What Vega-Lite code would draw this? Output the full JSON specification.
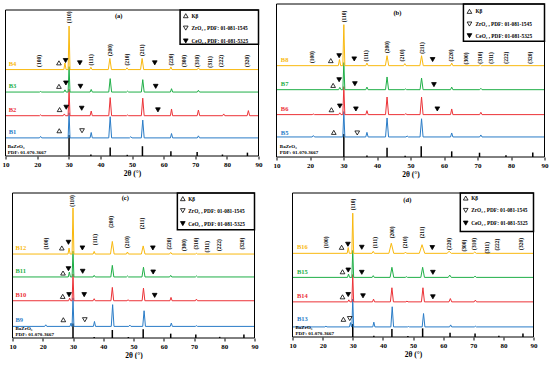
{
"$schema": "https://vega.github.io/schema/vega-lite/v6.json",
"padding": {"left": 1.5, "top": 3, "right": 0, "bottom": 0},
"background": "white",
"datasets": {
"frame": [{"x":10,"x2":90,"y":0,"y2":100}],
"pat": [
{"p":"a","r":1,"x":10,"y":12.4},{"p":"a","r":1,"x":20.75,"y":12.4},{"p":"a","r":1,"x":21.1,"y":13.4},{"p":"a","r":1,"x":21.45,"y":12.4},{"p":"a","r":1,"x":29.8,"y":12.4},{"p":"a","r":1,"x":30.1,"y":29.6},{"p":"a","r":1,"x":30.4,"y":12.4},{"p":"a","r":1,"x":36.75,"y":12.4},{"p":"a","r":1,"x":37.1,"y":16.1},{"p":"a","r":1,"x":37.45,"y":12.4},{"p":"a","r":1,"x":42.65,"y":12.4},{"p":"a","r":1,"x":43.1,"y":26.9},{"p":"a","r":1,"x":43.55,"y":12.4},{"p":"a","r":1,"x":49.2,"y":12.4},{"p":"a","r":1,"x":49.6,"y":13.2},{"p":"a","r":1,"x":50,"y":12.4},{"p":"a","r":1,"x":52.95,"y":12.4},{"p":"a","r":1,"x":53.4,"y":24.6},{"p":"a","r":1,"x":53.85,"y":12.4},{"p":"a","r":1,"x":62.15,"y":12.4},{"p":"a","r":1,"x":62.5,"y":15.4},{"p":"a","r":1,"x":62.85,"y":12.4},{"p":"a","r":1,"x":70.65,"y":12.4},{"p":"a","r":1,"x":71,"y":13.8},{"p":"a","r":1,"x":71.35,"y":12.4},{"p":"a","r":1,"x":90,"y":12.4},
{"p":"a","r":2,"x":10,"y":27.6},{"p":"a","r":2,"x":20.75,"y":27.6},{"p":"a","r":2,"x":21.1,"y":28.2},{"p":"a","r":2,"x":21.45,"y":27.6},{"p":"a","r":2,"x":28.25,"y":27.6},{"p":"a","r":2,"x":28.6,"y":28.8},{"p":"a","r":2,"x":28.95,"y":27.6},{"p":"a","r":2,"x":29.8,"y":27.6},{"p":"a","r":2,"x":30.1,"y":45.8},{"p":"a","r":2,"x":30.4,"y":27.6},{"p":"a","r":2,"x":36.75,"y":27.6},{"p":"a","r":2,"x":37.1,"y":30.8},{"p":"a","r":2,"x":37.45,"y":27.6},{"p":"a","r":2,"x":42.65,"y":27.6},{"p":"a","r":2,"x":43.1,"y":40},{"p":"a","r":2,"x":43.55,"y":27.6},{"p":"a","r":2,"x":48.25,"y":27.6},{"p":"a","r":2,"x":48.6,"y":28.1},{"p":"a","r":2,"x":48.95,"y":27.6},{"p":"a","r":2,"x":52.95,"y":27.6},{"p":"a","r":2,"x":53.4,"y":39.6},{"p":"a","r":2,"x":53.85,"y":27.6},{"p":"a","r":2,"x":62.15,"y":27.6},{"p":"a","r":2,"x":62.5,"y":32.2},{"p":"a","r":2,"x":62.85,"y":27.6},{"p":"a","r":2,"x":70.6,"y":27.6},{"p":"a","r":2,"x":71,"y":31.5},{"p":"a","r":2,"x":71.4,"y":27.6},{"p":"a","r":2,"x":78.65,"y":27.6},{"p":"a","r":2,"x":79,"y":28.8},{"p":"a","r":2,"x":79.35,"y":27.6},{"p":"a","r":2,"x":86.4,"y":27.6},{"p":"a","r":2,"x":86.8,"y":31.1},{"p":"a","r":2,"x":87.2,"y":27.6},{"p":"a","r":2,"x":90,"y":27.6},
{"p":"a","r":3,"x":10,"y":43.8},{"p":"a","r":3,"x":20.75,"y":43.8},{"p":"a","r":3,"x":21.1,"y":44.2},{"p":"a","r":3,"x":21.45,"y":43.8},{"p":"a","r":3,"x":28.45,"y":43.8},{"p":"a","r":3,"x":28.8,"y":45.3},{"p":"a","r":3,"x":29.15,"y":43.8},{"p":"a","r":3,"x":29.8,"y":43.8},{"p":"a","r":3,"x":30.1,"y":61.2},{"p":"a","r":3,"x":30.4,"y":43.8},{"p":"a","r":3,"x":36.75,"y":43.8},{"p":"a","r":3,"x":37.1,"y":45.6},{"p":"a","r":3,"x":37.45,"y":43.8},{"p":"a","r":3,"x":42.65,"y":43.8},{"p":"a","r":3,"x":43.1,"y":53},{"p":"a","r":3,"x":43.55,"y":43.8},{"p":"a","r":3,"x":48.25,"y":43.8},{"p":"a","r":3,"x":48.6,"y":44.4},{"p":"a","r":3,"x":48.95,"y":43.8},{"p":"a","r":3,"x":52.95,"y":43.8},{"p":"a","r":3,"x":53.4,"y":52.3},{"p":"a","r":3,"x":53.85,"y":43.8},{"p":"a","r":3,"x":62.15,"y":43.8},{"p":"a","r":3,"x":62.5,"y":46.1},{"p":"a","r":3,"x":62.85,"y":43.8},{"p":"a","r":3,"x":70.65,"y":43.8},{"p":"a","r":3,"x":71,"y":45},{"p":"a","r":3,"x":71.35,"y":43.8},{"p":"a","r":3,"x":90,"y":43.8},
{"p":"a","r":4,"x":10,"y":59.2},{"p":"a","r":4,"x":28.45,"y":59.2},{"p":"a","r":4,"x":28.8,"y":63.7},{"p":"a","r":4,"x":29.15,"y":59.2},{"p":"a","r":4,"x":29.8,"y":59.2},{"p":"a","r":4,"x":30.1,"y":89},{"p":"a","r":4,"x":30.4,"y":59.2},{"p":"a","r":4,"x":36.65,"y":59.2},{"p":"a","r":4,"x":37,"y":60.8},{"p":"a","r":4,"x":37.35,"y":59.2},{"p":"a","r":4,"x":42.5,"y":59.2},{"p":"a","r":4,"x":43,"y":66.8},{"p":"a","r":4,"x":43.5,"y":59.2},{"p":"a","r":4,"x":48.05,"y":59.2},{"p":"a","r":4,"x":48.4,"y":60.4},{"p":"a","r":4,"x":48.75,"y":59.2},{"p":"a","r":4,"x":52.7,"y":59.2},{"p":"a","r":4,"x":53.2,"y":66.8},{"p":"a","r":4,"x":53.7,"y":59.2},{"p":"a","r":4,"x":61.95,"y":59.2},{"p":"a","r":4,"x":62.3,"y":61},{"p":"a","r":4,"x":62.65,"y":59.2},{"p":"a","r":4,"x":70.65,"y":59.2},{"p":"a","r":4,"x":71,"y":60.4},{"p":"a","r":4,"x":71.35,"y":59.2},{"p":"a","r":4,"x":90,"y":59.2},
{"p":"b","r":1,"x":10,"y":13.1},{"p":"b","r":1,"x":20.65,"y":13.1},{"p":"b","r":1,"x":21,"y":14},{"p":"b","r":1,"x":21.35,"y":13.1},{"p":"b","r":1,"x":29.8,"y":13.1},{"p":"b","r":1,"x":30.1,"y":29.7},{"p":"b","r":1,"x":30.4,"y":13.1},{"p":"b","r":1,"x":36.65,"y":13.1},{"p":"b","r":1,"x":37,"y":16.1},{"p":"b","r":1,"x":37.35,"y":13.1},{"p":"b","r":1,"x":42.55,"y":13.1},{"p":"b","r":1,"x":43,"y":25.5},{"p":"b","r":1,"x":43.45,"y":13.1},{"p":"b","r":1,"x":48.65,"y":13.1},{"p":"b","r":1,"x":49,"y":13.7},{"p":"b","r":1,"x":49.35,"y":13.1},{"p":"b","r":1,"x":52.85,"y":13.1},{"p":"b","r":1,"x":53.3,"y":25},{"p":"b","r":1,"x":53.75,"y":13.1},{"p":"b","r":1,"x":61.95,"y":13.1},{"p":"b","r":1,"x":62.3,"y":15.7},{"p":"b","r":1,"x":62.65,"y":13.1},{"p":"b","r":1,"x":70.65,"y":13.1},{"p":"b","r":1,"x":71,"y":14.4},{"p":"b","r":1,"x":71.35,"y":13.1},{"p":"b","r":1,"x":90,"y":13.1},
{"p":"b","r":2,"x":10,"y":27.7},{"p":"b","r":2,"x":20.65,"y":27.7},{"p":"b","r":2,"x":21,"y":28.1},{"p":"b","r":2,"x":21.35,"y":27.7},{"p":"b","r":2,"x":28.55,"y":27.7},{"p":"b","r":2,"x":28.9,"y":28.9},{"p":"b","r":2,"x":29.25,"y":27.7},{"p":"b","r":2,"x":29.8,"y":27.7},{"p":"b","r":2,"x":30.1,"y":46},{"p":"b","r":2,"x":30.4,"y":27.7},{"p":"b","r":2,"x":36.65,"y":27.7},{"p":"b","r":2,"x":37,"y":30.3},{"p":"b","r":2,"x":37.35,"y":27.7},{"p":"b","r":2,"x":42.55,"y":27.7},{"p":"b","r":2,"x":43,"y":39.2},{"p":"b","r":2,"x":43.45,"y":27.7},{"p":"b","r":2,"x":48.25,"y":27.7},{"p":"b","r":2,"x":48.6,"y":28.3},{"p":"b","r":2,"x":48.95,"y":27.7},{"p":"b","r":2,"x":52.85,"y":27.7},{"p":"b","r":2,"x":53.3,"y":39.2},{"p":"b","r":2,"x":53.75,"y":27.7},{"p":"b","r":2,"x":61.95,"y":27.7},{"p":"b","r":2,"x":62.3,"y":31.4},{"p":"b","r":2,"x":62.65,"y":27.7},{"p":"b","r":2,"x":70.65,"y":27.7},{"p":"b","r":2,"x":71,"y":29.2},{"p":"b","r":2,"x":71.35,"y":27.7},{"p":"b","r":2,"x":90,"y":27.7},
{"p":"b","r":3,"x":10,"y":44},{"p":"b","r":3,"x":28.55,"y":44},{"p":"b","r":3,"x":28.9,"y":45.5},{"p":"b","r":3,"x":29.25,"y":44},{"p":"b","r":3,"x":29.8,"y":44},{"p":"b","r":3,"x":30.1,"y":61.7},{"p":"b","r":3,"x":30.4,"y":44},{"p":"b","r":3,"x":36.65,"y":44},{"p":"b","r":3,"x":37,"y":45.7},{"p":"b","r":3,"x":37.35,"y":44},{"p":"b","r":3,"x":42.55,"y":44},{"p":"b","r":3,"x":43,"y":52.3},{"p":"b","r":3,"x":43.45,"y":44},{"p":"b","r":3,"x":48.15,"y":44},{"p":"b","r":3,"x":48.5,"y":44.5},{"p":"b","r":3,"x":48.85,"y":44},{"p":"b","r":3,"x":52.85,"y":44},{"p":"b","r":3,"x":53.3,"y":51.6},{"p":"b","r":3,"x":53.75,"y":44},{"p":"b","r":3,"x":61.95,"y":44},{"p":"b","r":3,"x":62.3,"y":45.7},{"p":"b","r":3,"x":62.65,"y":44},{"p":"b","r":3,"x":70.65,"y":44},{"p":"b","r":3,"x":71,"y":44.9},{"p":"b","r":3,"x":71.35,"y":44},{"p":"b","r":3,"x":90,"y":44},
{"p":"b","r":4,"x":10,"y":59.7},{"p":"b","r":4,"x":28.45,"y":59.7},{"p":"b","r":4,"x":28.8,"y":63.7},{"p":"b","r":4,"x":29.15,"y":59.7},{"p":"b","r":4,"x":29.8,"y":59.7},{"p":"b","r":4,"x":30.1,"y":86.5},{"p":"b","r":4,"x":30.4,"y":59.7},{"p":"b","r":4,"x":36.65,"y":59.7},{"p":"b","r":4,"x":37,"y":61.4},{"p":"b","r":4,"x":37.35,"y":59.7},{"p":"b","r":4,"x":42.5,"y":59.7},{"p":"b","r":4,"x":43,"y":66.2},{"p":"b","r":4,"x":43.5,"y":59.7},{"p":"b","r":4,"x":47.95,"y":59.7},{"p":"b","r":4,"x":48.3,"y":61},{"p":"b","r":4,"x":48.65,"y":59.7},{"p":"b","r":4,"x":52.8,"y":59.7},{"p":"b","r":4,"x":53.3,"y":66.2},{"p":"b","r":4,"x":53.8,"y":59.7},{"p":"b","r":4,"x":61.95,"y":59.7},{"p":"b","r":4,"x":62.3,"y":61.4},{"p":"b","r":4,"x":62.65,"y":59.7},{"p":"b","r":4,"x":70.45,"y":59.7},{"p":"b","r":4,"x":70.8,"y":60.4},{"p":"b","r":4,"x":71.15,"y":59.7},{"p":"b","r":4,"x":90,"y":59.7},
{"p":"c","r":1,"x":10,"y":8},{"p":"c","r":1,"x":20.65,"y":8},{"p":"c","r":1,"x":21,"y":9.1},{"p":"c","r":1,"x":21.35,"y":8},{"p":"c","r":1,"x":29,"y":8},{"p":"c","r":1,"x":29.35,"y":10.3},{"p":"c","r":1,"x":29.6,"y":8},{"p":"c","r":1,"x":29.7,"y":8},{"p":"c","r":1,"x":30,"y":27.7},{"p":"c","r":1,"x":30.3,"y":8},{"p":"c","r":1,"x":36.75,"y":8},{"p":"c","r":1,"x":37.1,"y":11.4},{"p":"c","r":1,"x":37.45,"y":8},{"p":"c","r":1,"x":42.65,"y":8},{"p":"c","r":1,"x":43.1,"y":23},{"p":"c","r":1,"x":43.55,"y":8},{"p":"c","r":1,"x":48.45,"y":8},{"p":"c","r":1,"x":48.8,"y":8.9},{"p":"c","r":1,"x":49.15,"y":8},{"p":"c","r":1,"x":53.05,"y":8},{"p":"c","r":1,"x":53.5,"y":18.8},{"p":"c","r":1,"x":53.95,"y":8},{"p":"c","r":1,"x":62.15,"y":8},{"p":"c","r":1,"x":62.5,"y":10.3},{"p":"c","r":1,"x":62.85,"y":8},{"p":"c","r":1,"x":70.45,"y":8},{"p":"c","r":1,"x":70.8,"y":8.5},{"p":"c","r":1,"x":71.15,"y":8},{"p":"c","r":1,"x":90,"y":8},
{"p":"c","r":2,"x":10,"y":25.7},{"p":"c","r":2,"x":28.55,"y":25.7},{"p":"c","r":2,"x":28.9,"y":27.5},{"p":"c","r":2,"x":29.25,"y":25.7},{"p":"c","r":2,"x":29.7,"y":25.7},{"p":"c","r":2,"x":30,"y":44.1},{"p":"c","r":2,"x":30.3,"y":25.7},{"p":"c","r":2,"x":36.65,"y":25.7},{"p":"c","r":2,"x":37,"y":27.1},{"p":"c","r":2,"x":37.35,"y":25.7},{"p":"c","r":2,"x":42.55,"y":25.7},{"p":"c","r":2,"x":43,"y":34.9},{"p":"c","r":2,"x":43.45,"y":25.7},{"p":"c","r":2,"x":47.85,"y":25.7},{"p":"c","r":2,"x":48.2,"y":26.4},{"p":"c","r":2,"x":48.55,"y":25.7},{"p":"c","r":2,"x":52.85,"y":25.7},{"p":"c","r":2,"x":53.3,"y":34.4},{"p":"c","r":2,"x":53.75,"y":25.7},{"p":"c","r":2,"x":62.05,"y":25.7},{"p":"c","r":2,"x":62.4,"y":28},{"p":"c","r":2,"x":62.75,"y":25.7},{"p":"c","r":2,"x":70.45,"y":25.7},{"p":"c","r":2,"x":70.8,"y":26.8},{"p":"c","r":2,"x":71.15,"y":25.7},{"p":"c","r":2,"x":90,"y":25.7},
{"p":"c","r":3,"x":10,"y":42.1},{"p":"c","r":3,"x":28.45,"y":42.1},{"p":"c","r":3,"x":28.8,"y":45.5},{"p":"c","r":3,"x":29.15,"y":42.1},{"p":"c","r":3,"x":29.7,"y":42.1},{"p":"c","r":3,"x":30,"y":59.9},{"p":"c","r":3,"x":30.3,"y":42.1},{"p":"c","r":3,"x":36.65,"y":42.1},{"p":"c","r":3,"x":37,"y":43.2},{"p":"c","r":3,"x":37.35,"y":42.1},{"p":"c","r":3,"x":42.5,"y":42.1},{"p":"c","r":3,"x":43,"y":50.1},{"p":"c","r":3,"x":43.5,"y":42.1},{"p":"c","r":3,"x":47.65,"y":42.1},{"p":"c","r":3,"x":48,"y":42.8},{"p":"c","r":3,"x":48.35,"y":42.1},{"p":"c","r":3,"x":52.8,"y":42.1},{"p":"c","r":3,"x":53.3,"y":48.8},{"p":"c","r":3,"x":53.8,"y":42.1},{"p":"c","r":3,"x":61.95,"y":42.1},{"p":"c","r":3,"x":62.3,"y":43.2},{"p":"c","r":3,"x":62.65,"y":42.1},{"p":"c","r":3,"x":70.45,"y":42.1},{"p":"c","r":3,"x":70.8,"y":42.8},{"p":"c","r":3,"x":71.15,"y":42.1},{"p":"c","r":3,"x":90,"y":42.1},
{"p":"c","r":4,"x":10,"y":57.9},{"p":"c","r":4,"x":28.35,"y":57.9},{"p":"c","r":4,"x":28.7,"y":62},{"p":"c","r":4,"x":29.05,"y":57.9},{"p":"c","r":4,"x":29.7,"y":57.9},{"p":"c","r":4,"x":30,"y":89.7},{"p":"c","r":4,"x":30.3,"y":57.9},{"p":"c","r":4,"x":36.65,"y":57.9},{"p":"c","r":4,"x":37,"y":59.7},{"p":"c","r":4,"x":37.35,"y":57.9},{"p":"c","r":4,"x":42.4,"y":57.9},{"p":"c","r":4,"x":43,"y":66.6},{"p":"c","r":4,"x":43.6,"y":57.9},{"p":"c","r":4,"x":47.65,"y":57.9},{"p":"c","r":4,"x":48,"y":59.3},{"p":"c","r":4,"x":48.35,"y":57.9},{"p":"c","r":4,"x":52.6,"y":57.9},{"p":"c","r":4,"x":53.2,"y":63.5},{"p":"c","r":4,"x":53.8,"y":57.9},{"p":"c","r":4,"x":61.9,"y":57.9},{"p":"c","r":4,"x":62.3,"y":59},{"p":"c","r":4,"x":62.7,"y":57.9},{"p":"c","r":4,"x":70.45,"y":57.9},{"p":"c","r":4,"x":70.8,"y":58.4},{"p":"c","r":4,"x":71.15,"y":57.9},{"p":"c","r":4,"x":90,"y":57.9},
{"p":"d","r":1,"x":10,"y":7},{"p":"d","r":1,"x":20.75,"y":7},{"p":"d","r":1,"x":21.1,"y":7.5},{"p":"d","r":1,"x":21.45,"y":7},{"p":"d","r":1,"x":28.9,"y":7},{"p":"d","r":1,"x":29.25,"y":10},{"p":"d","r":1,"x":29.6,"y":7},{"p":"d","r":1,"x":29.7,"y":7},{"p":"d","r":1,"x":30,"y":26.4},{"p":"d","r":1,"x":30.3,"y":7},{"p":"d","r":1,"x":36.65,"y":7},{"p":"d","r":1,"x":37,"y":10.3},{"p":"d","r":1,"x":37.35,"y":7},{"p":"d","r":1,"x":42.65,"y":7},{"p":"d","r":1,"x":43.1,"y":21},{"p":"d","r":1,"x":43.55,"y":7},{"p":"d","r":1,"x":48.15,"y":7},{"p":"d","r":1,"x":48.5,"y":7.3},{"p":"d","r":1,"x":48.85,"y":7},{"p":"d","r":1,"x":53.05,"y":7},{"p":"d","r":1,"x":53.5,"y":16.3},{"p":"d","r":1,"x":53.95,"y":7},{"p":"d","r":1,"x":62.15,"y":7},{"p":"d","r":1,"x":62.5,"y":8.4},{"p":"d","r":1,"x":62.85,"y":7},{"p":"d","r":1,"x":70.35,"y":7},{"p":"d","r":1,"x":70.7,"y":7.5},{"p":"d","r":1,"x":71.05,"y":7},{"p":"d","r":1,"x":90,"y":7},
{"p":"d","r":2,"x":10,"y":24.4},{"p":"d","r":2,"x":28.35,"y":24.4},{"p":"d","r":2,"x":28.7,"y":25.8},{"p":"d","r":2,"x":29.05,"y":24.4},{"p":"d","r":2,"x":29.7,"y":24.4},{"p":"d","r":2,"x":30,"y":43.4},{"p":"d","r":2,"x":30.3,"y":24.4},{"p":"d","r":2,"x":36.55,"y":24.4},{"p":"d","r":2,"x":36.9,"y":26.3},{"p":"d","r":2,"x":37.25,"y":24.4},{"p":"d","r":2,"x":42.5,"y":24.4},{"p":"d","r":2,"x":43,"y":34.2},{"p":"d","r":2,"x":43.5,"y":24.4},{"p":"d","r":2,"x":47.65,"y":24.4},{"p":"d","r":2,"x":48,"y":24.9},{"p":"d","r":2,"x":48.35,"y":24.4},{"p":"d","r":2,"x":52.8,"y":24.4},{"p":"d","r":2,"x":53.3,"y":34.2},{"p":"d","r":2,"x":53.8,"y":24.4},{"p":"d","r":2,"x":61.95,"y":24.4},{"p":"d","r":2,"x":62.4,"y":26.7},{"p":"d","r":2,"x":62.85,"y":24.4},{"p":"d","r":2,"x":70.3,"y":24.4},{"p":"d","r":2,"x":70.7,"y":25.6},{"p":"d","r":2,"x":71.1,"y":24.4},{"p":"d","r":2,"x":90,"y":24.4},
{"p":"d","r":3,"x":10,"y":41.4},{"p":"d","r":3,"x":28.25,"y":41.4},{"p":"d","r":3,"x":28.6,"y":43.7},{"p":"d","r":3,"x":28.95,"y":41.4},{"p":"d","r":3,"x":29.7,"y":41.4},{"p":"d","r":3,"x":30,"y":60.1},{"p":"d","r":3,"x":30.3,"y":41.4},{"p":"d","r":3,"x":36.45,"y":41.4},{"p":"d","r":3,"x":36.8,"y":42.6},{"p":"d","r":3,"x":37.15,"y":41.4},{"p":"d","r":3,"x":42.4,"y":41.4},{"p":"d","r":3,"x":43,"y":48.4},{"p":"d","r":3,"x":43.6,"y":41.4},{"p":"d","r":3,"x":47.45,"y":41.4},{"p":"d","r":3,"x":47.8,"y":41.9},{"p":"d","r":3,"x":48.15,"y":41.4},{"p":"d","r":3,"x":52.6,"y":41.4},{"p":"d","r":3,"x":53.2,"y":48.4},{"p":"d","r":3,"x":53.8,"y":41.4},{"p":"d","r":3,"x":61.7,"y":41.4},{"p":"d","r":3,"x":62.2,"y":43},{"p":"d","r":3,"x":62.7,"y":41.4},{"p":"d","r":3,"x":70.2,"y":41.4},{"p":"d","r":3,"x":70.6,"y":42.3},{"p":"d","r":3,"x":71,"y":41.4},{"p":"d","r":3,"x":90,"y":41.4},
{"p":"d","r":4,"x":10,"y":58.1},{"p":"d","r":4,"x":28.15,"y":58.1},{"p":"d","r":4,"x":28.5,"y":62.1},{"p":"d","r":4,"x":28.85,"y":58.1},{"p":"d","r":4,"x":29.7,"y":58.1},{"p":"d","r":4,"x":30,"y":86},{"p":"d","r":4,"x":30.3,"y":58.1},{"p":"d","r":4,"x":36.4,"y":58.1},{"p":"d","r":4,"x":36.8,"y":59.5},{"p":"d","r":4,"x":37.2,"y":58.1},{"p":"d","r":4,"x":42,"y":58.1},{"p":"d","r":4,"x":42.8,"y":65.1},{"p":"d","r":4,"x":43.6,"y":58.1},{"p":"d","r":4,"x":47.15,"y":58.1},{"p":"d","r":4,"x":47.5,"y":59},{"p":"d","r":4,"x":47.85,"y":58.1},{"p":"d","r":4,"x":52.1,"y":58.1},{"p":"d","r":4,"x":53,"y":64.1},{"p":"d","r":4,"x":53.9,"y":58.1},{"p":"d","r":4,"x":61.3,"y":58.1},{"p":"d","r":4,"x":62,"y":59.5},{"p":"d","r":4,"x":62.7,"y":58.1},{"p":"d","r":4,"x":70,"y":58.1},{"p":"d","r":4,"x":70.5,"y":59},{"p":"d","r":4,"x":71,"y":58.1},{"p":"d","r":4,"x":90,"y":58.1}
],
"ref": [
{"p":"a","x":30.1,"y":14.4},{"p":"a","x":37,"y":1},{"p":"a","x":43.1,"y":5.8},{"p":"a","x":48.5,"y":0.8},{"p":"a","x":53.3,"y":6.7},{"p":"a","x":62.3,"y":3.2},{"p":"a","x":70.6,"y":2.8},{"p":"a","x":78.6,"y":1},{"p":"a","x":86.5,"y":2.3},
{"p":"b","x":30.1,"y":15},{"p":"b","x":37,"y":0.9},{"p":"b","x":43,"y":6},{"p":"b","x":48.4,"y":0.8},{"p":"b","x":53.2,"y":7},{"p":"b","x":62.3,"y":3.7},{"p":"b","x":70.6,"y":2.8},{"p":"b","x":78.5,"y":1.1},{"p":"b","x":86.5,"y":3},
{"p":"c","x":30,"y":10},{"p":"c","x":37,"y":0.7},{"p":"c","x":43,"y":5.5},{"p":"c","x":48.3,"y":0.7},{"p":"c","x":53.2,"y":6},{"p":"c","x":62.3,"y":3},{"p":"c","x":70.6,"y":2.5},{"p":"c","x":78.5,"y":0.8},{"p":"c","x":86.5,"y":2.5},
{"p":"d","x":30,"y":9},{"p":"d","x":37,"y":0.8},{"p":"d","x":43,"y":5.5},{"p":"d","x":48.3,"y":0.7},{"p":"d","x":53.2,"y":6},{"p":"d","x":62.3,"y":3},{"p":"d","x":70.6,"y":2.5},{"p":"d","x":78.5,"y":0.8},{"p":"d","x":86.5,"y":2.5}
],
"hkl": [
{"p":"a","x":20.6,"y":61,"t":"(100)"},{"p":"a","x":30.0,"y":91,"t":"(110)"},{"p":"a","x":36.9,"y":62,"t":"(111)"},{"p":"a","x":43.0,"y":68.5,"t":"(200)"},{"p":"a","x":48.5,"y":62,"t":"(210)"},{"p":"a","x":53.2,"y":68.5,"t":"(211)"},{"p":"a","x":62.2,"y":62,"t":"(220)"},{"p":"a","x":66.3,"y":61,"t":"(300)"},{"p":"a","x":70.5,"y":61,"t":"(310)"},{"p":"a","x":74.6,"y":60.5,"t":"(311)"},{"p":"a","x":78.1,"y":61,"t":"(222)"},{"p":"a","x":86.3,"y":61,"t":"(320)"},
{"p":"b","x":20.5,"y":61.4,"t":"(100)"},{"p":"b","x":30.1,"y":88,"t":"(110)"},{"p":"b","x":36.7,"y":62.5,"t":"(111)"},{"p":"b","x":42.9,"y":68,"t":"(200)"},{"p":"b","x":47.6,"y":62.5,"t":"(210)"},{"p":"b","x":53.3,"y":67.5,"t":"(211)"},{"p":"b","x":62.0,"y":62.5,"t":"(220)"},{"p":"b","x":66.6,"y":60.5,"t":"(300)"},{"p":"b","x":70.6,"y":61,"t":"(310)"},{"p":"b","x":74.0,"y":61,"t":"(311)"},{"p":"b","x":78.5,"y":61,"t":"(222)"},{"p":"b","x":85.7,"y":61,"t":"(320)"},
{"p":"c","x":21.0,"y":61,"t":"(100)"},{"p":"c","x":29.8,"y":90.5,"t":"(110)"},{"p":"c","x":37.3,"y":64,"t":"(111)"},{"p":"c","x":42.5,"y":76,"t":"(200)"},{"p":"c","x":47.7,"y":62,"t":"(210)"},{"p":"c","x":52.7,"y":75,"t":"(211)"},{"p":"c","x":61.9,"y":61,"t":"(220)"},{"p":"c","x":66.7,"y":60,"t":"(300)"},{"p":"c","x":70.5,"y":61,"t":"(310)"},{"p":"c","x":74.4,"y":59,"t":"(311)"},{"p":"c","x":78.2,"y":60,"t":"(222)"},{"p":"c","x":85.9,"y":61,"t":"(320)"},
{"p":"d","x":21.0,"y":61.6,"t":"(100)"},{"p":"d","x":30.1,"y":88,"t":"(110)"},{"p":"d","x":37.3,"y":61.6,"t":"(111)"},{"p":"d","x":42.9,"y":68.6,"t":"(200)"},{"p":"d","x":47.3,"y":61.6,"t":"(210)"},{"p":"d","x":53.0,"y":68.6,"t":"(211)"},{"p":"d","x":61.9,"y":60.5,"t":"(220)"},{"p":"d","x":66.8,"y":59.3,"t":"(300)"},{"p":"d","x":70.4,"y":60.5,"t":"(310)"},{"p":"d","x":74.6,"y":58,"t":"(311)"},{"p":"d","x":77.9,"y":60,"t":"(222)"},{"p":"d","x":85.8,"y":60.5,"t":"(320)"}
],
"mk": [
{"p":"a","x":26.9,"y":63.8,"k":"Kb"},{"p":"a","x":26.9,"y":47.7,"k":"Kb"},{"p":"a","x":27.1,"y":31.8,"k":"Kb"},{"p":"a","x":27.0,"y":17.3,"k":"Kb"},
{"p":"a","x":29.0,"y":65.4,"k":"Ce"},{"p":"a","x":33.5,"y":63.8,"k":"Ce"},{"p":"a","x":57.2,"y":63.8,"k":"Ce"},{"p":"a","x":29.1,"y":50,"k":"Ce"},{"p":"a","x":33.7,"y":47.7,"k":"Ce"},{"p":"a","x":57.5,"y":47.7,"k":"Ce"},{"p":"a","x":29.2,"y":33.4,"k":"Ce"},{"p":"a","x":34.1,"y":32.7,"k":"Ce"},{"p":"a","x":58.2,"y":31.6,"k":"Ce"},
{"p":"a","x":34.2,"y":17.3,"k":"Zr"},
{"p":"a","x":67.0,"y":96.1,"k":"Kb"},{"p":"a","x":67.0,"y":87.6,"k":"Zr"},{"p":"a","x":67.0,"y":78.8,"k":"Ce"},
{"p":"b","x":26.2,"y":63,"k":"Kb"},{"p":"b","x":26.9,"y":46.8,"k":"Kb"},{"p":"b","x":26.4,"y":30.9,"k":"Kb"},{"p":"b","x":27.1,"y":16.1,"k":"Kb"},
{"p":"b","x":28.7,"y":66.2,"k":"Ce"},{"p":"b","x":33.2,"y":64.1,"k":"Ce"},{"p":"b","x":56.6,"y":63.7,"k":"Ce"},{"p":"b","x":28.7,"y":50.5,"k":"Ce"},{"p":"b","x":33.4,"y":47.9,"k":"Ce"},{"p":"b","x":57.0,"y":47.3,"k":"Ce"},{"p":"b","x":28.9,"y":33.3,"k":"Ce"},{"p":"b","x":33.7,"y":31.4,"k":"Ce"},{"p":"b","x":58.0,"y":31.4,"k":"Ce"},
{"p":"b","x":34.1,"y":15.7,"k":"Zr"},
{"p":"b","x":67.6,"y":95.2,"k":"Kb"},{"p":"b","x":67.6,"y":86.9,"k":"Zr"},{"p":"b","x":67.6,"y":79.3,"k":"Ce"},
{"p":"c","x":26.3,"y":62.1,"k":"Kb"},{"p":"c","x":26.7,"y":44.8,"k":"Kb"},{"p":"c","x":26.6,"y":28.7,"k":"Kb"},{"p":"c","x":26.8,"y":12.6,"k":"Kb"},
{"p":"c","x":28.5,"y":66,"k":"Ce"},{"p":"c","x":33.1,"y":62.1,"k":"Ce"},{"p":"c","x":56.4,"y":62.1,"k":"Ce"},{"p":"c","x":28.5,"y":47.8,"k":"Ce"},{"p":"c","x":33.2,"y":46,"k":"Ce"},{"p":"c","x":56.5,"y":45.5,"k":"Ce"},{"p":"c","x":28.7,"y":29.9,"k":"Ce"},{"p":"c","x":33.7,"y":29.9,"k":"Ce"},{"p":"c","x":57.0,"y":29.4,"k":"Ce"},
{"p":"c","x":33.9,"y":12.6,"k":"Zr"},
{"p":"c","x":66.3,"y":96.1,"k":"Kb"},{"p":"c","x":66.3,"y":87.8,"k":"Zr"},{"p":"c","x":66.3,"y":78.9,"k":"Ce"},
{"p":"d","x":26.3,"y":62.3,"k":"Kb"},{"p":"d","x":26.6,"y":45.3,"k":"Kb"},{"p":"d","x":26.6,"y":27.9,"k":"Kb"},{"p":"d","x":26.9,"y":12.3,"k":"Kb"},
{"p":"d","x":28.4,"y":64.4,"k":"Ce"},{"p":"d","x":33.0,"y":62.3,"k":"Ce"},{"p":"d","x":56.4,"y":62.1,"k":"Ce"},{"p":"d","x":28.5,"y":46.5,"k":"Ce"},{"p":"d","x":33.0,"y":44.9,"k":"Ce"},{"p":"d","x":56.6,"y":44.9,"k":"Ce"},{"p":"d","x":28.5,"y":29.5,"k":"Ce"},{"p":"d","x":33.4,"y":28.6,"k":"Ce"},{"p":"d","x":56.6,"y":27.9,"k":"Ce"},
{"p":"d","x":29.0,"y":12.8,"k":"Zr"},
{"p":"d","x":67.5,"y":96.5,"k":"Kb"},{"p":"d","x":67.5,"y":87.9,"k":"Zr"},{"p":"d","x":67.5,"y":79.1,"k":"Ce"}
],
"sl": [
{"p":"a","r":4,"x":11,"y":63.2,"t":"B4"},{"p":"a","r":3,"x":11,"y":47.8,"t":"B3"},{"p":"a","r":2,"x":11,"y":31.6,"t":"B2"},{"p":"a","r":1,"x":11,"y":16.4,"t":"B1"},
{"p":"b","r":4,"x":11.3,"y":63.2,"t":"B8"},{"p":"b","r":3,"x":11.3,"y":47.5,"t":"B7"},{"p":"b","r":2,"x":11.3,"y":31.2,"t":"B6"},{"p":"b","r":1,"x":11.3,"y":15.8,"t":"B5"},
{"p":"c","r":4,"x":11,"y":62,"t":"B12"},{"p":"c","r":3,"x":11,"y":46,"t":"B11"},{"p":"c","r":2,"x":11,"y":29.5,"t":"B10"},{"p":"c","r":1,"x":11,"y":12.5,"t":"B9"},
{"p":"d","r":4,"x":11.5,"y":62.3,"t":"B16"},{"p":"d","r":3,"x":11.5,"y":45.3,"t":"B15"},{"p":"d","r":2,"x":11.5,"y":28.2,"t":"B14"},{"p":"d","r":1,"x":11.5,"y":12.5,"t":"B13"}
],
"ann": [
{"p":"a","g":"n","x":44.6,"y":96,"t":"(a)"},{"p":"a","g":"f","x":10.7,"y":7,"t":"BaZrO₃"},{"p":"a","g":"f","x":10.7,"y":2.8,"t":"PDF: 01-070-3667"},
{"p":"a","g":"l","x":68.8,"y":96.1,"t":"Kβ"},{"p":"a","g":"l","x":68.8,"y":87.6,"t":"ZrO₂ , PDF: 01-081-1545"},{"p":"a","g":"l","x":68.8,"y":78.8,"t":"CeO₂ , PDF: 01-081-5325"},
{"p":"b","g":"n","x":44.9,"y":94.1,"t":"(b)"},{"p":"b","g":"f","x":11,"y":7.2,"t":"BaZrO₃"},{"p":"b","g":"f","x":11,"y":3.3,"t":"PDF: 01-070-3667"},
{"p":"b","g":"l","x":69.4,"y":95.2,"t":"Kβ"},{"p":"b","g":"l","x":69.4,"y":86.9,"t":"ZrO₂ , PDF: 01-081-1545"},{"p":"b","g":"l","x":69.4,"y":79.3,"t":"CeO₂ , PDF: 01-081-5325"},
{"p":"c","g":"n","x":46.1,"y":96.6,"t":"(c)"},{"p":"c","g":"f","x":11,"y":7,"t":"BaZrO₃"},{"p":"c","g":"f","x":11,"y":2.8,"t":"PDF: 01-070-3667"},
{"p":"c","g":"l","x":68.1,"y":96.1,"t":"Kβ"},{"p":"c","g":"l","x":68.1,"y":87.8,"t":"ZrO₂ , PDF: 01-081-1545"},{"p":"c","g":"l","x":68.1,"y":78.9,"t":"CeO₂ , PDF: 01-081-5325"},
{"p":"d","g":"n","x":46.8,"y":95.3,"t":"(d)"},{"p":"d","g":"f","x":11,"y":7,"t":"BaZrO₃"},{"p":"d","g":"f","x":11,"y":2.8,"t":"PDF: 01-070-3667"},
{"p":"d","g":"l","x":69.3,"y":96.5,"t":"Kβ"},{"p":"d","g":"l","x":69.3,"y":87.9,"t":"ZrO₂ , PDF: 01-081-1545"},{"p":"d","g":"l","x":69.3,"y":79.1,"t":"CeO₂ , PDF: 01-081-5325"}
],
"box": [
{"p":"a","x":65.2,"x2":90,"y":76.5,"y2":100},
{"p":"b","x":65.8,"x2":90,"y":75.6,"y2":100},
{"p":"c","x":64.5,"x2":90,"y":74.7,"y2":100},
{"p":"d","x":65.7,"x2":90,"y":73.3,"y2":100}
]
},
"columns": 2,
"align": "each",
"bounds": "flush",
"spacing": {"row": 36, "column": 18},
"concat": [
{"width": 253, "height": 152,
 "encoding": {
  "x": {"field": "x", "type": "quantitative", "scale": {"domain": [10, 90], "nice": false, "zero": false}, "axis": {"values": [10,20,30,40,50,60,70,80,90], "title": "2θ (°)", "grid": false, "domain": false, "tickSize": 3, "labelPadding": 1, "titlePadding": 2, "labelFlush": false}},
  "y": {"field": "y", "type": "quantitative", "scale": {"domain": [0, 100], "nice": false, "range": [152, 6]}, "axis": null}
 },
 "layer": [
  {"data": {"name": "ref"}, "transform": [{"filter": "datum.p=='a'"}], "mark": {"type": "rule", "color": "black", "strokeWidth": 1.5}, "encoding": {"y2": {"datum": 0}}},
  {"data": {"name": "pat"}, "transform": [{"filter": "datum.p=='a'"}], "mark": {"type": "line", "strokeWidth": 1}, "encoding": {"color": {"field": "r", "type": "nominal", "scale": {"domain": [1,2,3,4], "range": ["#2A7CC7","#EC3237","#1FAF47","#F9B90F"]}, "legend": null}}},
  {"data": {"name": "box"}, "transform": [{"filter": "datum.p=='a'"}], "mark": {"type": "rect", "fill": "white", "stroke": "black", "strokeWidth": 1.5}, "encoding": {"x2": {"field": "x2"}, "y2": {"field": "y2"}}},
  {"data": {"name": "hkl"}, "transform": [{"filter": "datum.p=='a'"}], "mark": {"type": "text", "angle": 270, "align": "left", "baseline": "middle", "fontSize": 5.5, "color": "black"}, "encoding": {"text": {"field": "t"}}},
  {"data": {"name": "mk"}, "transform": [{"filter": "datum.p=='a'"}], "mark": {"type": "point", "size": 22, "stroke": "black", "strokeWidth": 0.8, "opacity": 1, "filled": true}, "encoding": {"shape": {"field": "k", "type": "nominal", "scale": {"domain": ["Kb","Zr","Ce"], "range": ["triangle-up","triangle-down","triangle-down"]}, "legend": null}, "fill": {"field": "k", "type": "nominal", "scale": {"domain": ["Kb","Zr","Ce"], "range": ["white","white","black"]}, "legend": null}}},
  {"data": {"name": "sl"}, "transform": [{"filter": "datum.p=='a'"}], "mark": {"type": "text", "align": "left", "baseline": "middle", "fontSize": 6.5}, "encoding": {"text": {"field": "t"}, "color": {"field": "r", "type": "nominal", "scale": {"domain": [1,2,3,4], "range": ["#2A7CC7","#EC3237","#1FAF47","#F9B90F"]}, "legend": null}}},
  {"data": {"name": "ann"}, "transform": [{"filter": "datum.p=='a' && datum.g=='n'"}], "mark": {"type": "text", "align": "left", "baseline": "middle", "fontSize": 6.5, "color": "black"}, "encoding": {"text": {"field": "t"}}},
  {"data": {"name": "ann"}, "transform": [{"filter": "datum.p=='a' && datum.g=='f'"}], "mark": {"type": "text", "align": "left", "baseline": "middle", "fontSize": 5, "color": "black"}, "encoding": {"text": {"field": "t"}}},
  {"data": {"name": "ann"}, "transform": [{"filter": "datum.p=='a' && datum.g=='l'"}], "mark": {"type": "text", "align": "left", "baseline": "middle", "fontSize": 5.3, "color": "black"}, "encoding": {"text": {"field": "t"}}},
  {"data": {"name": "frame"}, "mark": {"type": "rect", "filled": false, "stroke": "black", "strokeWidth": 1}, "encoding": {"x2": {"field": "x2"}, "y2": {"field": "y2"}}}
 ]
},
{"width": 268, "height": 153,
 "encoding": {
  "x": {"field": "x", "type": "quantitative", "scale": {"domain": [10, 90], "nice": false, "zero": false}, "axis": {"values": [10,20,30,40,50,60,70,80,90], "title": "2θ (°)", "grid": false, "domain": false, "tickSize": 3, "labelPadding": 1, "titlePadding": 2, "labelFlush": false}},
  "y": {"field": "y", "type": "quantitative", "scale": {"domain": [0, 100], "nice": false}, "axis": null}
 },
 "layer": [
  {"data": {"name": "ref"}, "transform": [{"filter": "datum.p=='b'"}], "mark": {"type": "rule", "color": "black", "strokeWidth": 1.5}, "encoding": {"y2": {"datum": 0}}},
  {"data": {"name": "pat"}, "transform": [{"filter": "datum.p=='b'"}], "mark": {"type": "line", "strokeWidth": 1}, "encoding": {"color": {"field": "r", "type": "nominal", "scale": {"domain": [1,2,3,4], "range": ["#2A7CC7","#EC3237","#1FAF47","#F9B90F"]}, "legend": null}}},
  {"data": {"name": "box"}, "transform": [{"filter": "datum.p=='b'"}], "mark": {"type": "rect", "fill": "white", "stroke": "black", "strokeWidth": 1.5}, "encoding": {"x2": {"field": "x2"}, "y2": {"field": "y2"}}},
  {"data": {"name": "hkl"}, "transform": [{"filter": "datum.p=='b'"}], "mark": {"type": "text", "angle": 270, "align": "left", "baseline": "middle", "fontSize": 5.5, "color": "black"}, "encoding": {"text": {"field": "t"}}},
  {"data": {"name": "mk"}, "transform": [{"filter": "datum.p=='b'"}], "mark": {"type": "point", "size": 22, "stroke": "black", "strokeWidth": 0.8, "opacity": 1, "filled": true}, "encoding": {"shape": {"field": "k", "type": "nominal", "scale": {"domain": ["Kb","Zr","Ce"], "range": ["triangle-up","triangle-down","triangle-down"]}, "legend": null}, "fill": {"field": "k", "type": "nominal", "scale": {"domain": ["Kb","Zr","Ce"], "range": ["white","white","black"]}, "legend": null}}},
  {"data": {"name": "sl"}, "transform": [{"filter": "datum.p=='b'"}], "mark": {"type": "text", "align": "left", "baseline": "middle", "fontSize": 6.5}, "encoding": {"text": {"field": "t"}, "color": {"field": "r", "type": "nominal", "scale": {"domain": [1,2,3,4], "range": ["#2A7CC7","#EC3237","#1FAF47","#F9B90F"]}, "legend": null}}},
  {"data": {"name": "ann"}, "transform": [{"filter": "datum.p=='b' && datum.g=='n'"}], "mark": {"type": "text", "align": "left", "baseline": "middle", "fontSize": 6.5, "color": "black"}, "encoding": {"text": {"field": "t"}}},
  {"data": {"name": "ann"}, "transform": [{"filter": "datum.p=='b' && datum.g=='f'"}], "mark": {"type": "text", "align": "left", "baseline": "middle", "fontSize": 5, "color": "black"}, "encoding": {"text": {"field": "t"}}},
  {"data": {"name": "ann"}, "transform": [{"filter": "datum.p=='b' && datum.g=='l'"}], "mark": {"type": "text", "align": "left", "baseline": "middle", "fontSize": 5.3, "color": "black"}, "encoding": {"text": {"field": "t"}}},
  {"data": {"name": "frame"}, "mark": {"type": "rect", "filled": false, "stroke": "black", "strokeWidth": 1}, "encoding": {"x2": {"field": "x2"}, "y2": {"field": "y2"}}}
 ]
},
{"width": 249, "height": 145,
 "encoding": {
  "x": {"field": "x", "type": "quantitative", "scale": {"domain": [10, 90], "nice": false, "zero": false, "range": [7, 249]}, "axis": {"values": [10,20,30,40,50,60,70,80,90], "title": "2θ (°)", "grid": false, "domain": false, "tickSize": 3, "labelPadding": 1, "titlePadding": 2, "labelFlush": false}},
  "y": {"field": "y", "type": "quantitative", "scale": {"domain": [0, 100], "nice": false}, "axis": null}
 },
 "layer": [
  {"data": {"name": "ref"}, "transform": [{"filter": "datum.p=='c'"}], "mark": {"type": "rule", "color": "black", "strokeWidth": 1.5}, "encoding": {"y2": {"datum": 0}}},
  {"data": {"name": "pat"}, "transform": [{"filter": "datum.p=='c'"}], "mark": {"type": "line", "strokeWidth": 1}, "encoding": {"color": {"field": "r", "type": "nominal", "scale": {"domain": [1,2,3,4], "range": ["#2A7CC7","#EC3237","#1FAF47","#F9B90F"]}, "legend": null}}},
  {"data": {"name": "box"}, "transform": [{"filter": "datum.p=='c'"}], "mark": {"type": "rect", "fill": "white", "stroke": "black", "strokeWidth": 1.5}, "encoding": {"x2": {"field": "x2"}, "y2": {"field": "y2"}}},
  {"data": {"name": "hkl"}, "transform": [{"filter": "datum.p=='c'"}], "mark": {"type": "text", "angle": 270, "align": "left", "baseline": "middle", "fontSize": 5.5, "color": "black"}, "encoding": {"text": {"field": "t"}}},
  {"data": {"name": "mk"}, "transform": [{"filter": "datum.p=='c'"}], "mark": {"type": "point", "size": 22, "stroke": "black", "strokeWidth": 0.8, "opacity": 1, "filled": true}, "encoding": {"shape": {"field": "k", "type": "nominal", "scale": {"domain": ["Kb","Zr","Ce"], "range": ["triangle-up","triangle-down","triangle-down"]}, "legend": null}, "fill": {"field": "k", "type": "nominal", "scale": {"domain": ["Kb","Zr","Ce"], "range": ["white","white","black"]}, "legend": null}}},
  {"data": {"name": "sl"}, "transform": [{"filter": "datum.p=='c'"}], "mark": {"type": "text", "align": "left", "baseline": "middle", "fontSize": 6.5}, "encoding": {"text": {"field": "t"}, "color": {"field": "r", "type": "nominal", "scale": {"domain": [1,2,3,4], "range": ["#2A7CC7","#EC3237","#1FAF47","#F9B90F"]}, "legend": null}}},
  {"data": {"name": "ann"}, "transform": [{"filter": "datum.p=='c' && datum.g=='n'"}], "mark": {"type": "text", "align": "left", "baseline": "middle", "fontSize": 6.5, "color": "black"}, "encoding": {"text": {"field": "t"}}},
  {"data": {"name": "ann"}, "transform": [{"filter": "datum.p=='c' && datum.g=='f'"}], "mark": {"type": "text", "align": "left", "baseline": "middle", "fontSize": 5, "color": "black"}, "encoding": {"text": {"field": "t"}}},
  {"data": {"name": "ann"}, "transform": [{"filter": "datum.p=='c' && datum.g=='l'"}], "mark": {"type": "text", "align": "left", "baseline": "middle", "fontSize": 5.3, "color": "black"}, "encoding": {"text": {"field": "t"}}},
  {"data": {"name": "frame"}, "mark": {"type": "rect", "filled": false, "stroke": "black", "strokeWidth": 1}, "encoding": {"x2": {"field": "x2"}, "y2": {"field": "y2"}}}
 ]
},
{"width": 257, "height": 144,
 "encoding": {
  "x": {"field": "x", "type": "quantitative", "scale": {"domain": [10, 90], "nice": false, "zero": false, "range": [16, 257]}, "axis": {"values": [10,20,30,40,50,60,70,80,90], "title": "2θ (°)", "grid": false, "domain": false, "tickSize": 3, "labelPadding": 1, "titlePadding": 2, "labelFlush": false}},
  "y": {"field": "y", "type": "quantitative", "scale": {"domain": [0, 100], "nice": false}, "axis": null}
 },
 "layer": [
  {"data": {"name": "ref"}, "transform": [{"filter": "datum.p=='d'"}], "mark": {"type": "rule", "color": "black", "strokeWidth": 1.5}, "encoding": {"y2": {"datum": 0}}},
  {"data": {"name": "pat"}, "transform": [{"filter": "datum.p=='d'"}], "mark": {"type": "line", "strokeWidth": 1}, "encoding": {"color": {"field": "r", "type": "nominal", "scale": {"domain": [1,2,3,4], "range": ["#2A7CC7","#EC3237","#1FAF47","#F9B90F"]}, "legend": null}}},
  {"data": {"name": "box"}, "transform": [{"filter": "datum.p=='d'"}], "mark": {"type": "rect", "fill": "white", "stroke": "black", "strokeWidth": 1.5}, "encoding": {"x2": {"field": "x2"}, "y2": {"field": "y2"}}},
  {"data": {"name": "hkl"}, "transform": [{"filter": "datum.p=='d'"}], "mark": {"type": "text", "angle": 270, "align": "left", "baseline": "middle", "fontSize": 5.5, "color": "black"}, "encoding": {"text": {"field": "t"}}},
  {"data": {"name": "mk"}, "transform": [{"filter": "datum.p=='d'"}], "mark": {"type": "point", "size": 22, "stroke": "black", "strokeWidth": 0.8, "opacity": 1, "filled": true}, "encoding": {"shape": {"field": "k", "type": "nominal", "scale": {"domain": ["Kb","Zr","Ce"], "range": ["triangle-up","triangle-down","triangle-down"]}, "legend": null}, "fill": {"field": "k", "type": "nominal", "scale": {"domain": ["Kb","Zr","Ce"], "range": ["white","white","black"]}, "legend": null}}},
  {"data": {"name": "sl"}, "transform": [{"filter": "datum.p=='d'"}], "mark": {"type": "text", "align": "left", "baseline": "middle", "fontSize": 6.5}, "encoding": {"text": {"field": "t"}, "color": {"field": "r", "type": "nominal", "scale": {"domain": [1,2,3,4], "range": ["#2A7CC7","#EC3237","#1FAF47","#F9B90F"]}, "legend": null}}},
  {"data": {"name": "ann"}, "transform": [{"filter": "datum.p=='d' && datum.g=='n'"}], "mark": {"type": "text", "align": "left", "baseline": "middle", "fontSize": 6.5, "color": "black"}, "encoding": {"text": {"field": "t"}}},
  {"data": {"name": "ann"}, "transform": [{"filter": "datum.p=='d' && datum.g=='f'"}], "mark": {"type": "text", "align": "left", "baseline": "middle", "fontSize": 5, "color": "black"}, "encoding": {"text": {"field": "t"}}},
  {"data": {"name": "ann"}, "transform": [{"filter": "datum.p=='d' && datum.g=='l'"}], "mark": {"type": "text", "align": "left", "baseline": "middle", "fontSize": 5.3, "color": "black"}, "encoding": {"text": {"field": "t"}}},
  {"data": {"name": "frame"}, "mark": {"type": "rect", "filled": false, "stroke": "black", "strokeWidth": 1}, "encoding": {"x2": {"field": "x2"}, "y2": {"field": "y2"}}}
 ]
}
],
"config": {
 "font": "Liberation Serif",
 "view": {"stroke": null},
 "text": {"fontWeight": "bold", "font": "Liberation Serif"},
 "axis": {"labelFont": "Liberation Serif", "labelFontWeight": "bold", "labelFontSize": 7, "labelColor": "black", "titleFont": "Liberation Serif", "titleFontWeight": "bold", "titleFontSize": 7.5, "titleColor": "black", "tickColor": "black"}
}
}
